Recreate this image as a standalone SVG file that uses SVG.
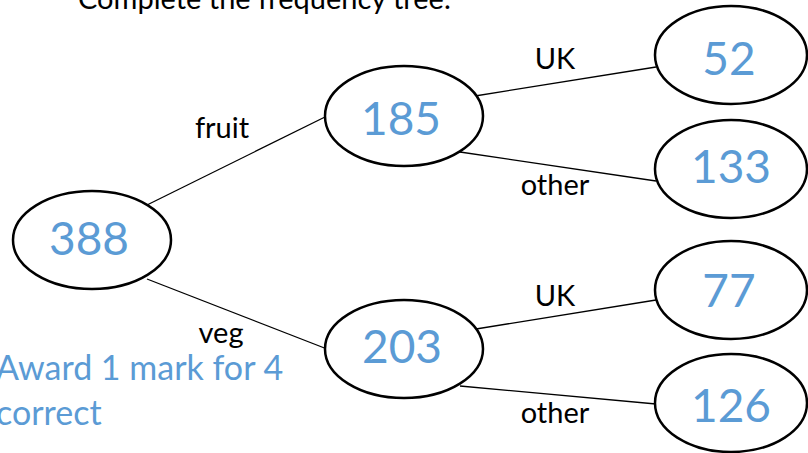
<svg xmlns="http://www.w3.org/2000/svg" width="808" height="453" viewBox="0 0 808 453">
<style>
.n ellipse{fill:#fff;stroke:#000;stroke-width:2.5}
.n text{font-family:Lato,"Liberation Sans",sans-serif;font-size:46px;fill:#5B9BD5;text-anchor:middle}
.lbl{font-family:Lato,"Liberation Sans",sans-serif;font-size:29px;fill:#000;text-anchor:middle}
.note{font-family:Lato,"Liberation Sans",sans-serif;font-size:34px;fill:#5B9BD5}
#connectors line{stroke:#000;stroke-width:1.3}
</style>
<rect width="808" height="453" fill="#fff"/>
<text x="78" y="9" font-family="Lato,'Liberation Sans',sans-serif" font-size="29" fill="#000">Complete the frequency tree.</text>
<g id="connectors">
<line x1="147" y1="205" x2="327" y2="116"/>
<line x1="147" y1="279" x2="327" y2="349"/>
<line x1="475" y1="96" x2="656" y2="67"/>
<line x1="460" y1="152" x2="656" y2="181"/>
<line x1="476" y1="329" x2="656" y2="300"/>
<line x1="460" y1="386" x2="656" y2="404"/>
</g>
<g id="labels">
<text class="lbl" x="222" y="138">fruit</text>
<text class="lbl" x="221" y="343">veg</text>
<text class="lbl" x="555" y="69">UK</text>
<text class="lbl" x="555" y="195">other</text>
<text class="lbl" x="555" y="306">UK</text>
<text class="lbl" x="555" y="423">other</text>
</g>
<g id="n388" class="n"><ellipse cx="92" cy="240" rx="79" ry="49"/><text x="89" y="255">388</text></g>
<g id="n185" class="n"><ellipse cx="404" cy="116" rx="79" ry="50"/><text x="401" y="135">185</text></g>
<g id="n203" class="n"><ellipse cx="404" cy="349" rx="79" ry="49"/><text x="402" y="363">203</text></g>
<g id="n52" class="n"><ellipse cx="731" cy="55" rx="76" ry="49"/><text x="729" y="75">52</text></g>
<g id="n133" class="n"><ellipse cx="731" cy="169" rx="76" ry="49"/><text x="731" y="183">133</text></g>
<g id="n77" class="n"><ellipse cx="731" cy="290" rx="76" ry="49"/><text x="729" y="307">77</text></g>
<g id="n126" class="n"><ellipse cx="731" cy="403" rx="76" ry="49"/><text x="731" y="422">126</text></g>
<text class="note" x="-4" y="380">Award 1 mark for 4</text>
<text class="note" x="-4" y="425">correct</text>
</svg>
